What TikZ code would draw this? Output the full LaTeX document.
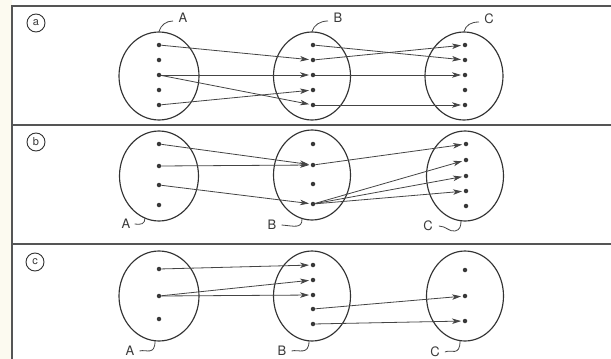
\documentclass[tikz,border=0pt]{standalone}
\usepackage{fontspec}
\setmainfont{TeX Gyre Heros}
\usetikzlibrary{arrows.meta,shapes.geometric}
\definecolor{linec}{HTML}{444444}
\definecolor{ellc}{HTML}{333333}
\definecolor{dotc}{HTML}{383838}
\definecolor{labc}{HTML}{3A3A3A}
\definecolor{framec}{HTML}{555555}
\definecolor{creamc}{HTML}{FCFAF0}
\begin{document}
\begin{tikzpicture}[x=1pt,y=-1pt,
  dot/.style={circle,fill=dotc,inner sep=0pt,minimum size=4.5pt},
  conn/.style={draw=linec,line width=0.8pt,-{Stealth[length=9pt,width=5.5pt,inset=2.5pt]},shorten >=1.5pt},
  setbox/.style={ellipse,draw=ellc,line width=1.15pt,inner sep=0pt,minimum width=78pt,minimum height=89pt},
  lab/.style={font=\fontsize{13}{15}\selectfont,text=labc,inner sep=0pt},
  tag/.style={circle,draw=ellc,line width=0.9pt,inner sep=0pt,minimum size=18pt,text=labc,font=\fontsize{11}{12}\selectfont},
  frameline/.style={draw=framec,line width=1.2pt},
  tickline/.style={draw=linec,line width=0.8pt}
]
\useasboundingbox (0,0) rectangle (611,359);
\fill[white] (0,0) rectangle (611,359);
\fill[creamc] (0,0) rectangle (12,359);

% frame
\draw[frameline] (611,6) -- (12,6) -- (12,359);
\draw[frameline] (12,125) -- (611,125);
\draw[frameline] (12,244) -- (611,244);

% panel tags
\node[tag] (ta) at (36,23) {a};
\node[tag] (tb) at (36,142) {b};
\node[tag] (tc) at (35,262) {c};

% ---------------- panel a ----------------
\node[setbox,minimum width=80pt,minimum height=88pt] (aeA) at (159,76) {};
\node[setbox,minimum width=77pt,minimum height=88pt] (aeB) at (312,76) {};
\node[setbox,minimum width=78pt,minimum height=88pt] (aeC) at (464,76) {};
\foreach \i/\y in {1/45,2/60,3/75,4/90,5/105}{
  \node[dot] (aA\i) at (159,\y) {};
  \node[dot] (aB\i) at (313,\y) {};
  \node[dot] (aC\i) at (465,\y) {};
}
\node[lab] (alA) at (183,18) {A};
\node[lab] (alB) at (338,18) {B};
\node[lab] (alC) at (489,19) {C};
\coordinate (akA) at (173,21);
\coordinate (akB) at (328,21);
\coordinate (akC) at (479,22);
\draw[tickline] (aeA.north) .. controls (161,25) and (166,21) .. (akA);
\draw[tickline] (aeB.north) .. controls (314,25) and (320,21) .. (akB);
\draw[tickline] (aeC.north) .. controls (466,25) and (471,22) .. (akC);

\draw[conn] (aA1) -- (aB2);
\draw[conn] (aA3) -- (aB3);
\draw[conn] (aA3) -- (aB5);
\draw[conn] (aA5) -- (aB4);
\draw[conn] (aB1) -- (aC2);
\draw[conn] (aB2) -- (aC1);
\draw[conn] (aB3) -- (aC3);
\draw[conn] (aB5) -- (aC5);

% ---------------- panel b ----------------
\node[setbox,minimum width=79pt,minimum height=90pt] (beA) at (159,176) {};
\node[setbox,minimum width=77pt,minimum height=90pt] (beB) at (312,175) {};
\node[setbox,minimum width=77pt,minimum height=90pt] (beC) at (465,176) {};
\foreach \i/\y in {1/144,2/166,3/185,4/205}{
  \node[dot] (bA\i) at (159,\y) {};
}
\foreach \i/\y in {1/144,2/165,3/184,4/204}{
  \node[dot] (bB\i) at (313,\y) {};
}
\foreach \i/\y in {1/144,2/160,3/176,4/191,5/206}{
  \node[dot] (bC\i) at (466,\y) {};
}
\node[lab] (blA) at (126,224) {A};
\node[lab] (blB) at (272,225) {B};
\node[lab] (blC) at (428,226) {C};
\coordinate (bkA) at (145,218);
\coordinate (bkB) at (302,219);
\coordinate (bkC) at (461,221);
\draw[tickline] ([xshift=4pt]blA.east) .. controls (141,225) and (145,224) .. (bkA);
\draw[tickline] ([xshift=5pt]blB.east) .. controls (294,226) and (302,229) .. (bkB);
\draw[tickline] ([xshift=6pt]blC.east) .. controls (446,226) and (449,232) .. (455,231) .. controls (460,230) and (461,226) .. (bkC);

\draw[conn] (bA1) -- (bB2);
\draw[conn] (bA2) -- (bB2);
\draw[conn] (bA3) -- (bB4);
\draw[conn] (bB2) -- (bC1);
\draw[conn] (bB4) -- (bC2);
\draw[conn] (bB4) -- (bC3);
\draw[conn] (bB4) -- (bC4);

% ---------------- panel c ----------------
\node[setbox,minimum width=80pt,minimum height=90pt] (ceA) at (159,296) {};
\node[setbox,minimum width=77pt,minimum height=90pt] (ceB) at (312,296) {};
\node[setbox,minimum width=77pt,minimum height=90pt] (ceC) at (465,296) {};
\foreach \i/\y in {1/269,2/296,3/319}{
  \node[dot] (cA\i) at (159,\y) {};
}
\foreach \i/\y in {1/265,2/280,3/295,4/309,5/324}{
  \node[dot] (cB\i) at (313,\y) {};
}
\foreach \i/\y in {1/270,2/296,3/321}{
  \node[dot] (cC\i) at (465,\y) {};
}
\node[lab] (clA) at (130,351) {A};
\node[lab] (clB) at (282,351) {B};
\node[lab] (clC) at (435,352) {C};
\coordinate (ckA) at (155,341);
\coordinate (ckB) at (309,341);
\coordinate (ckC) at (460,341);
\draw[tickline] ([xshift=5pt]clA.east) .. controls (146,349) and (155,356) .. (ckA);
\draw[tickline] ([xshift=5pt]clB.east) .. controls (298,349) and (309,356) .. (ckB);
\draw[tickline] ([xshift=5pt]clC.east) .. controls (451,349) and (460,357) .. (ckC);

\draw[conn] (cA1) -- (cB1);
\draw[conn] (cA2) -- (cB2);
\draw[conn] (cA2) -- (cB3);
\draw[conn] (cB4) -- (cC2);
\draw[conn] (cB5) -- (cC3);
\end{tikzpicture}
\end{document}
